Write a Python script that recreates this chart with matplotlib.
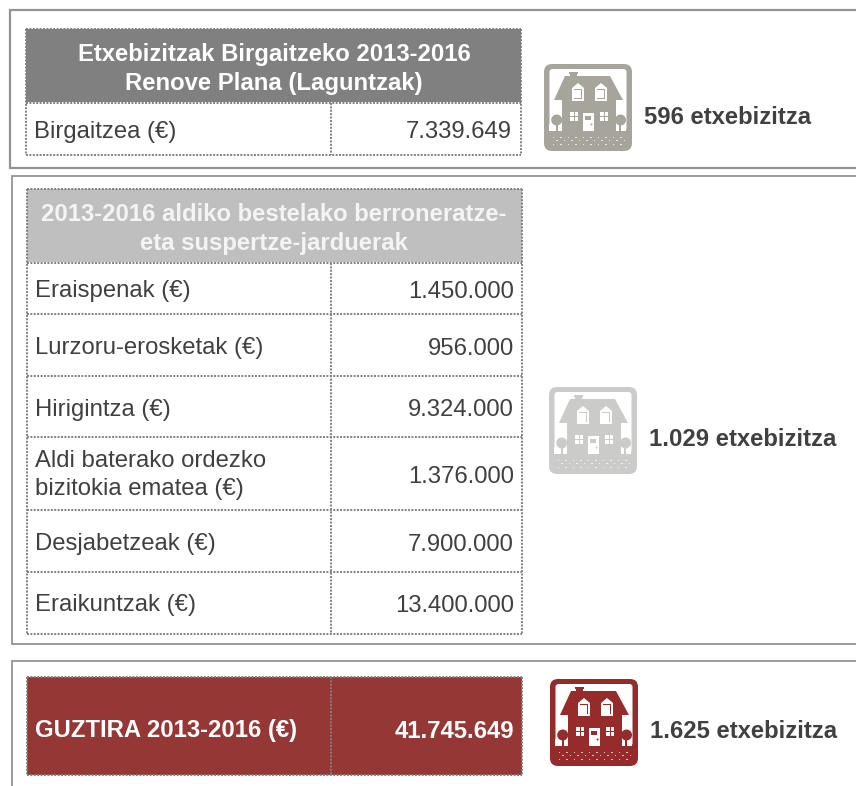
import matplotlib
matplotlib.use("Agg")
import matplotlib.pyplot as plt
from matplotlib.patches import Rectangle, FancyBboxPatch, Polygon, Circle

plt.rcParams['font.family'] = ['Liberation Sans', 'DejaVu Sans']

header_1 = "Etxebizitzak Birgaitzeko 2013-2016\nRenove Plana (Laguntzak)"
rows_1 = ["Birgaitzea (€)"]
values_1 = ["7.339.649"]
total_1 = "596 etxebizitza"

header_2 = "2013-2016 aldiko bestelako berroneratze-\neta suspertze-jarduerak"
rows_2 = ["Eraispenak (€)", "Lurzoru-erosketak (€)", "Hirigintza (€)",
          "Aldi baterako ordezko\nbizitokia ematea (€)", "Desjabetzeak (€)", "Eraikuntzak (€)"]
values_2 = ["1.450.000", "956.000", "9.324.000", "1.376.000", "7.900.000", "13.400.000"]
total_2 = "1.029 etxebizitza"

label_3 = "GUZTIRA 2013-2016 (€)"
value_3 = "41.745.649"
total_3 = "1.625 etxebizitza"

DARK = "#404040"
DOT = "#808080"
FS = 17.2
LS = 1.36

fig = plt.figure(figsize=(8.56, 7.86), dpi=100)
ax = fig.add_axes([0, 0, 1, 1])
ax.set_xlim(0, 856)
ax.set_ylim(786, 0)
ax.axis("off")


def dotted(x0, y0, x1, y1):
    ax.plot([x0, x1], [y0, y1], color=DOT, lw=1.4, ls=(0, (1, 0.75)),
            dash_capstyle="butt", zorder=4)


def box(x0, y0, x1, y1):
    dotted(x0, y0, x1, y0)
    dotted(x0, y1, x1, y1)
    dotted(x0, y0, x0, y1)
    dotted(x1, y0, x1, y1)


def panel(x0, y0, y1, closed=True, lw=1.3):
    xs = [900, x0, x0]
    ys = [y0, y0, y1]
    if closed:
        xs.append(900)
        ys.append(y1)
    ax.plot(xs, ys, color="#939393", lw=lw, solid_joinstyle="miter", zorder=1)


def house(x, y, color):
    # icon is 88 x 87 px, coordinates are px from its top left corner
    ax.add_patch(FancyBboxPatch((x, y), 88, 87, boxstyle="round,pad=0,rounding_size=8",
                                fc=color, ec="none", zorder=2))
    ax.add_patch(FancyBboxPatch((x + 5.5, y + 5), 77, 62, boxstyle="round,pad=0,rounding_size=3",
                                fc="white", ec="none", zorder=3))
    ax.add_patch(Rectangle((x + 5.5, y + 60), 77, 7, fc="white", ec="none", zorder=3))
    # house body and roof
    ax.add_patch(Polygon([(x + 21, y + 12), (x + 66, y + 12), (x + 79, y + 36), (x + 72, y + 36),
                          (x + 72, y + 68), (x + 18, y + 68), (x + 18, y + 36), (x + 10, y + 36)],
                         fc=color, ec="none", zorder=4))
    ax.add_patch(Rectangle((x + 26, y + 8), 7, 5, fc=color, ec="none", zorder=4))
    ax.add_patch(Rectangle((x + 25, y + 7.5), 9, 2, fc=color, ec="none", zorder=4))
    for wx in (x + 28, x + 51):
        ax.add_patch(Polygon([(wx, y + 24), (wx + 6, y + 19), (wx + 12, y + 24), (wx + 12, y + 37), (wx, y + 37)],
                             fc="white", ec="none", zorder=5))
        ax.add_patch(Rectangle((wx + 2, y + 25), 8, 10, fc=color, ec="none", zorder=6))
        for dx in (2.5, 6.3):
            for dy in (25.5, 30.3):
                ax.add_patch(Rectangle((wx + dx, y + dy), 3.2, 4.2, fc="white", ec="none", zorder=7))
    # lower windows and door
    for wx in (x + 26, x + 56):
        for dx in (0, 4.7):
            for dy in (0, 5.2):
                ax.add_patch(Rectangle((wx + dx, y + 48 + dy), 3.7, 4.2, fc="white", ec="none", zorder=5))
    ax.add_patch(Rectangle((x + 39, y + 49), 11, 18, fc="white", ec="none", zorder=5))
    ax.add_patch(Rectangle((x + 41.5, y + 51.5), 6, 4, fc=color, ec="none", zorder=6))
    ax.add_patch(Circle((x + 47.5, y + 60.5), 1, fc=color, ec="none", zorder=6))
    # trees
    for tx in (x + 12.7, x + 76.5):
        ax.add_patch(Circle((tx, y + 56), 5.5, fc=color, ec="none", zorder=5))
        ax.add_patch(Rectangle((tx - 1, y + 56), 2, 12, fc=color, ec="none", zorder=5))
    # speckled ground
    for r, dy in enumerate((72.5, 76, 79.5)):
        for c in range(10):
            ax.add_patch(Rectangle((x + 9 + c * 7.5 + (r % 2) * 3.5, y + dy), 1.3, 1.3,
                                   fc="white", ec="none", alpha=0.75, zorder=5))


def row_text(x, y, s):
    ax.text(x, y, s, fontsize=FS, color=DARK, ha="left", va="center", linespacing=LS, zorder=8)


def val_text(x, y, s):
    ax.text(x, y, s, fontsize=FS, color=DARK, ha="right", va="center", zorder=8)


# first panel
panel(10, 10, 168, lw=1.6)
ax.add_patch(Rectangle((26, 29), 495, 73, fc="#808080", ec="none", zorder=3))
box(26, 29, 521, 155)
dotted(26, 103, 521, 103)
dotted(331, 103, 331, 155)
ax.text(274, 69, header_1, fontsize=FS, fontweight="bold", color="white", ha="center", va="center",
        linespacing=LS, zorder=8)
row_text(34, 132, rows_1[0])
val_text(512, 132, values_1[0])
house(544, 64, "#a7a59b")
ax.text(644, 117, total_1, fontsize=FS, fontweight="bold", color=DARK, va="center", zorder=8)

# second panel
panel(12, 176, 644)
row_edges = [263, 314, 376, 437, 510, 572, 634]
label_y = [291, 348, 410, 475, 544, 605]
value_y = [292, 349, 410, 477, 545, 606]
ax.add_patch(Rectangle((27, 189), 495, 73, fc="#bfbfbf", ec="none", zorder=3))
box(27, 189, 522, 634)
dotted(331, 263, 331, 634)
for edge in row_edges[:-1]:
    dotted(27, edge, 522, edge)
ax.text(274, 229, header_2, fontsize=FS, fontweight="bold", color="#f4f4f4", ha="center", va="center",
        linespacing=LS, zorder=8)
for name, val, ly, vy in zip(rows_2, values_2, label_y, value_y):
    row_text(35, ly, name)
    val_text(514, vy, val)
house(549, 387, "#cbcbc9")
ax.text(649, 440, total_2, fontsize=FS, fontweight="bold", color=DARK, va="center", zorder=8)

# third panel, cut off by the bottom of the picture
panel(12, 661, 800, closed=False)
ax.add_patch(Rectangle((27, 677), 495, 98, fc="#953735", ec="none", zorder=3))
box(27, 677, 522, 775)
dotted(331, 677, 331, 775)
ax.text(35, 730, label_3, fontsize=FS, fontweight="bold", color="white", va="center", zorder=8)
ax.text(514, 731, value_3, fontsize=FS, fontweight="bold", color="white", ha="right", va="center", zorder=8)
house(550, 679, "#962b2b")
ax.text(650, 732, total_3, fontsize=FS, fontweight="bold", color=DARK, va="center", zorder=8)

fig.savefig("out.png", dpi=100)
